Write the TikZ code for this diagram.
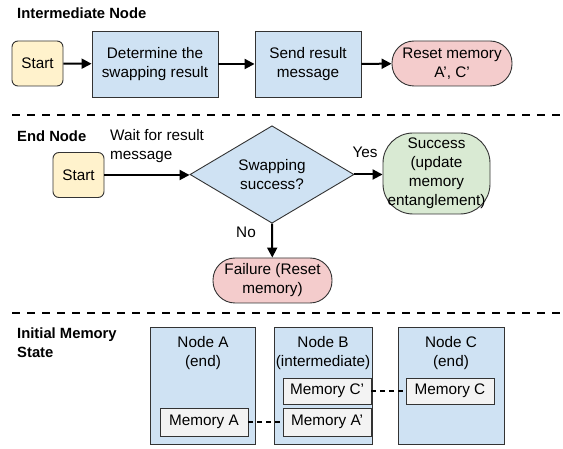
\documentclass[tikz,border=0pt]{standalone}
\usepackage{fontspec}
\setmainfont{Liberation Sans}
\usetikzlibrary{shapes.geometric,arrows.meta}
\definecolor{cblue}{HTML}{CFE2F3}
\definecolor{cyellow}{HTML}{FFF2CC}
\definecolor{cred}{HTML}{F4CCCC}
\definecolor{cgreen}{HTML}{D9EAD3}
\definecolor{cgray}{HTML}{F3F3F3}
\definecolor{cborder}{HTML}{333333}
\tikzset{
  every node/.style={font=\fontsize{15.3}{19}\selectfont, inner sep=0pt, align=center},
  box/.style={draw=cborder, line width=0.9pt, minimum width=#1},
  startbox/.style={box=51pt, fill=cyellow, minimum height=45pt, rounded corners=6pt},
  procbox/.style={box=#1, fill=cblue, minimum height=66pt},
  pill/.style={box=#1, fill=cred, minimum height=45pt, rounded corners=22pt},
  decision/.style={diamond, draw=cborder, line width=0.9pt, fill=cblue, minimum width=164pt, minimum height=83pt},
  membox/.style={box=#1, fill=cblue, minimum height=117pt},
  memcell/.style={box=88pt, fill=cgray, minimum height=#1},
  flow/.style={line width=2pt, -{Triangle[length=10pt,width=10pt]}},
  sep/.style={line width=2.2pt, dash pattern=on 8pt off 7pt},
  link/.style={line width=1.2pt, dash pattern=on 5pt off 4pt},
  title/.style={font=\bfseries\fontsize{14.8}{19}\selectfont, align=left, anchor=west},
}
\begin{document}
\begin{tikzpicture}[x=1pt,y=-1pt]
\useasboundingbox (0,0) rectangle (563,449);
% Section 1
\node[title] (t1) at (17,13) {Intermediate Node};
\node[startbox] (s1) at (37.5,63.5) {Start};
\node[procbox=126pt] (det) at (155,64) {Determine the\\swapping result};
\node[procbox=106pt] (send) at (308,64) {Send result\\message};
\node[pill=120pt] (reset) at (452,63.5) {Reset memory\\A', C'};
\draw[flow] (s1) -- (det);
\draw[flow] (det) -- (send);
\draw[flow] (send) -- (reset);
\coordinate (d1a) at (12,115);
\coordinate (d1b) at (563,115);
\draw[sep] (d1a) -- (d1b);
% Section 2
\node[title] (t2) at (17,136) {End Node};
\node[anchor=west, align=left] (wait) at (110,146) {Wait for result\\message};
\node[startbox] (s2) at (78.5,175) {Start};
\node[decision] (dec) at (272,174.5) {Swapping\\success?};
\node[pill=107pt, fill=cgreen, minimum height=81pt, rounded corners=30pt] (succ) at (436.5,173.5) {Success\\(update\\memory\\entanglement)};
\node[pill=119pt] (fail) at (272.5,280.5) {Failure (Reset\\memory)};
\draw[flow] (s2) -- (s2 -| dec.west);
\draw[flow] (dec.east) -- (dec.east -| succ.west);
\draw[flow] (dec.south) -- (fail);
\node (yes) at (365,152) {Yes};
\node (no) at (246,232) {No};
\coordinate (d2a) at (12,313);
\coordinate (d2b) at (563,313);
\draw[sep] (d2a) -- (d2b);
% Section 3
\node[title] (t3) at (17,343) {Initial Memory\\State};
\node[membox=105pt] (na) at (203,385.5) {};
\node[membox=98pt] (nb) at (323,385.5) {};
\node[membox=106pt] (nc) at (451,385.5) {};
\node[anchor=north] (nat) at ([yshift=-10pt]na.north) {Node A\\(end)};
\node[anchor=north] (nbt) at ([yshift=-10pt]nb.north) {Node B\\(intermediate)};
\node[anchor=north] (nct) at ([yshift=-10pt]nc.north) {Node C\\(end)};
\node[memcell=28pt] (ma) at (204,422) {Memory A};
\node[memcell=28pt] (map) at (327,422) {Memory A'};
\node[memcell=26pt] (mcp) at (327,391) {Memory C'};
\node[memcell=26pt] (mc) at (450,391) {Memory C};
\draw[link] (ma) -- (map);
\draw[link] (mcp) -- (mc);
\end{tikzpicture}
\end{document}
